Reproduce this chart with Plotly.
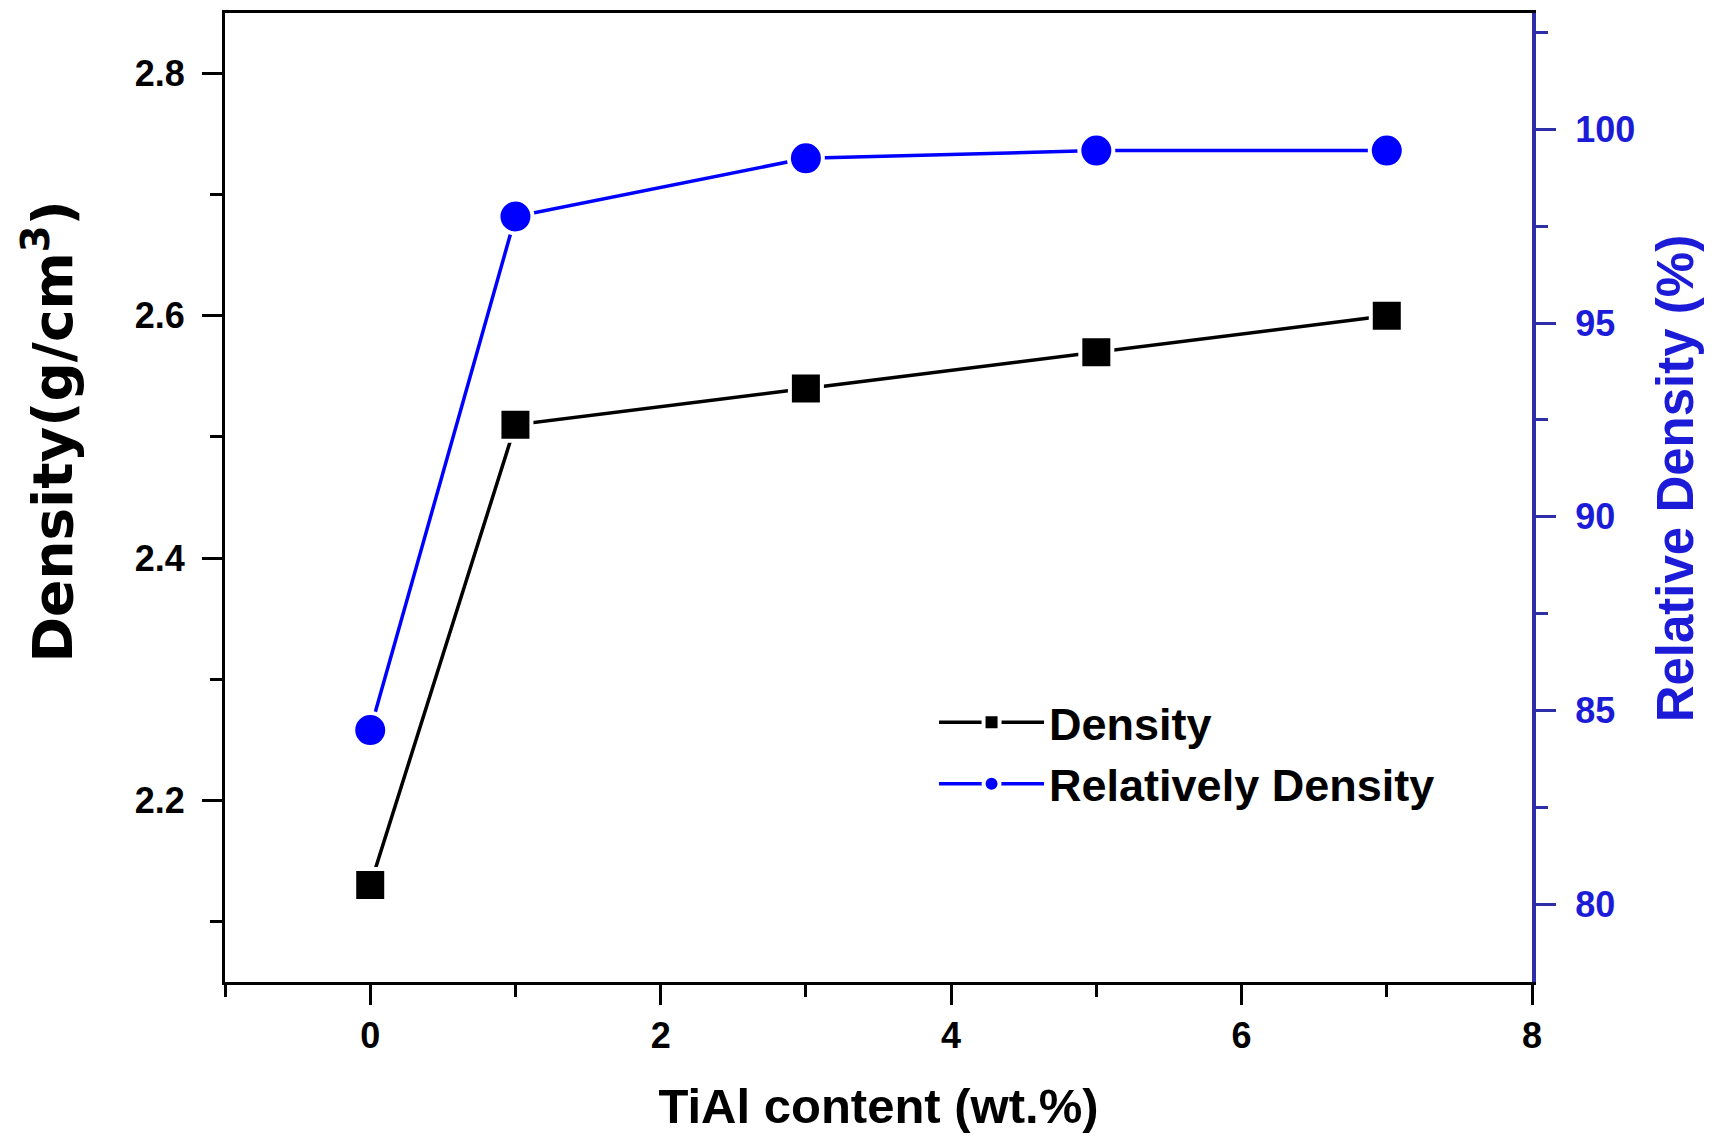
import plotly.graph_objects as go

# Data
tial_content = [0, 1, 3, 5, 7]
density = [2.13, 2.51, 2.54, 2.57, 2.60]
relative_density = [84.5, 97.75, 99.25, 99.45, 99.45]

x_ticks = [0, 2, 4, 6, 8]
y_ticks = [2.2, 2.4, 2.6, 2.8]
y2_ticks = [80, 85, 90, 95, 100]

TICK_FONT = "Liberation Sans, Arial, sans-serif"
TITLE_FONT = "Liberation Sans, Arial, sans-serif"
LEFT_TITLE_FONT = "DejaVu Sans, sans-serif"
LEG_FONT = "Liberation Sans, Arial, sans-serif"
BLUE = "#0000ff"
AXBLUE = "#2e2ea8"
TXTBLUE = "#1c1cd8"

fig = go.Figure()

fig.add_trace(go.Scatter(
    x=tial_content, y=density, name="Density", mode="lines+markers",
    line=dict(color="black", width=3.5),
    marker=dict(symbol="square", size=32, color="black",
                line=dict(color="white", width=4)),
    yaxis="y",
))
fig.add_trace(go.Scatter(
    x=tial_content, y=relative_density, name="Relatively Density", mode="lines+markers",
    line=dict(color=BLUE, width=3.5),
    marker=dict(symbol="circle", size=34, color=BLUE,
                line=dict(color="white", width=4)),
    yaxis="y2",
))

fig.update_layout(
    width=1720, height=1136,
    margin=dict(l=217, r=196, t=2, b=162),
    paper_bgcolor="white", plot_bgcolor="white",
    showlegend=True,
    legend=dict(
        x=0.5425, y=0.305, xanchor="left", yanchor="top",
        bgcolor="rgba(0,0,0,0)",
        font=dict(family=LEG_FONT, size=45, color="black", weight="bold"),
        itemwidth=105, tracegroupgap=0,
    ),
    xaxis=dict(
        range=[-1, 8], tickvals=x_ticks, ticktext=[str(v) for v in x_ticks],
        showgrid=False, zeroline=False,
        showline=True, linecolor="black", linewidth=3, mirror=True,
        ticks="outside", ticklen=20, tickwidth=3, tickcolor="black",
        ticklabelstandoff=0,
        minor=dict(dtick=1, tick0=0, ticks="outside", ticklen=12, tickwidth=3,
                   tickcolor="black", showgrid=False),
        tickfont=dict(family=TICK_FONT, size=36, color="black", weight="bold"),
        title=dict(text="TiAl content (wt.%)", standoff=34,
                   font=dict(family=TITLE_FONT, size=49, color="black", weight="bold")),
    ),
    yaxis=dict(
        range=[2.05, 2.85], tickvals=y_ticks, ticktext=["2.2", "2.4", "2.6", "2.8"],
        showgrid=False, zeroline=False,
        showline=True, linecolor="black", linewidth=3,
        ticks="outside", ticklen=20, tickwidth=3, tickcolor="black",
        ticklabelstandoff=10,
        minor=dict(dtick=0.1, tick0=0, ticks="outside", ticklen=12, tickwidth=3,
                   tickcolor="black", showgrid=False),
        tickfont=dict(family=TICK_FONT, size=36, color="black", weight="bold"),
    ),
    yaxis2=dict(
        overlaying="y", side="right",
        range=[78, 103], tickvals=y2_ticks, ticktext=[str(v) for v in y2_ticks],
        showgrid=False, zeroline=False,
        showline=True, linecolor=AXBLUE, linewidth=4,
        ticks="outside", ticklen=20, tickwidth=3, tickcolor=AXBLUE,
        ticklabelstandoff=12,
        minor=dict(dtick=2.5, tick0=0, ticks="outside", ticklen=12, tickwidth=3,
                   tickcolor=AXBLUE, showgrid=False),
        tickfont=dict(family=TICK_FONT, size=36, color=TXTBLUE, weight="bold"),
    ),
    annotations=[
        dict(text="Density(g/cm<sup>3</sup>)", xref="paper", yref="paper",
             x=-0.1347, y=0.568, xanchor="center", yanchor="middle",
             textangle=-90, showarrow=False,
             font=dict(family=LEFT_TITLE_FONT, size=55, color="black", weight="bold")),
        dict(text="Relative Density (%)", xref="paper", yref="paper",
             x=1.110, y=0.5195, xanchor="center", yanchor="middle",
             textangle=-90, showarrow=False,
             font=dict(family=TITLE_FONT, size=51, color=TXTBLUE, weight="bold")),
    ],
)

fig.write_html("out.html")
